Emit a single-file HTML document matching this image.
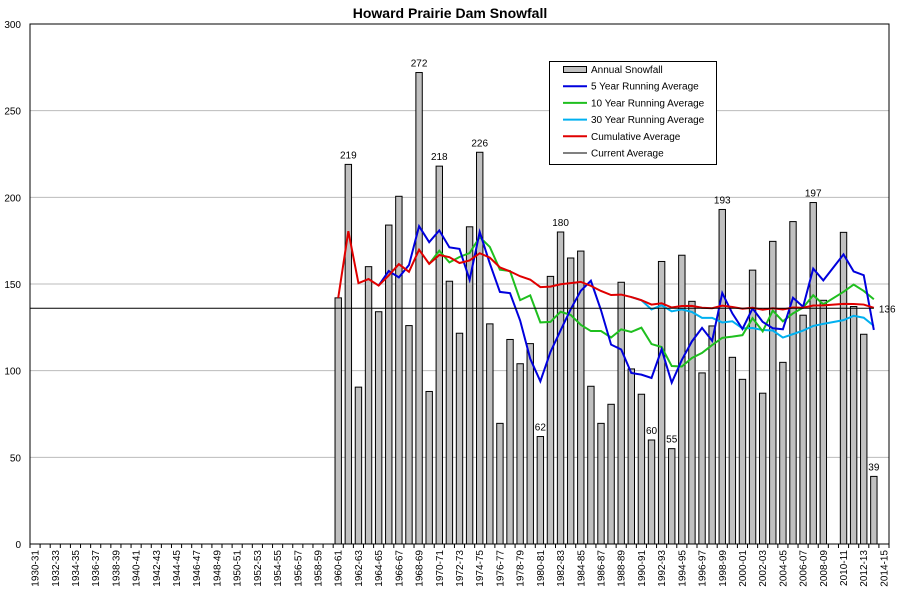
<!DOCTYPE html>
<html><head><meta charset="utf-8"><style>
body{margin:0;background:#fff;}
svg{display:block;font-family:"Liberation Sans",sans-serif;}
</style></head><body>
<svg id="c" width="900" height="600" xmlns="http://www.w3.org/2000/svg"></svg>
<script>
const data={1960:142,1961:219,1962:90.5,1963:160,1964:134,1965:184,1966:200.6,1967:126,1968:272,1969:88,1970:218,1971:151.6,1972:121.6,1973:183,1974:226,1975:127,1976:69.6,1977:118,1978:104,1979:115.6,1980:62,1981:154.4,1982:180,1983:165,1984:169,1985:91,1986:69.6,1987:80.6,1988:151,1989:101,1990:86.4,1991:60,1992:163,1993:55,1994:166.6,1995:140,1996:98.7,1997:125.8,1998:193,1999:107.7,2000:95,2001:158,2002:87,2003:174.6,2004:104.8,2005:186,2006:132,2007:197,2008:140.6,2010:179.8,2011:137,2012:121,2013:39};
const L=30,R=889,T=24,B=544,N=85,cw=(R-L)/N;
const Y=v=>B-v*(B-T)/300, X=i=>L+cw*(i+0.5);
let s='';
s+=`<text x="450" y="18" text-anchor="middle" font-size="14" font-weight="bold">Howard Prairie Dam Snowfall</text>`;
for(let v=50;v<=300;v+=50)s+=`<line x1="${L}" x2="${R}" y1="${Y(v)}" y2="${Y(v)}" stroke="#bbb"/>`;
for(let v=0;v<=300;v+=50)s+=`<text x="21" y="${Y(v)+4}" text-anchor="end" font-size="10">${v}</text>`;
s+=`<rect x="${L}" y="${T}" width="${R-L}" height="${B-T}" fill="none" stroke="#000"/>`;
for(let i=0;i<=N;i++)s+=`<line x1="${L+cw*i}" x2="${L+cw*i}" y1="${B}" y2="${B+4}" stroke="#000"/>`;
for(let i=0;i<N;i+=2){const yr=1930+i;const lab=yr+'-'+String((yr+1)%100).padStart(2,'0');
 s+=`<text transform="translate(${X(i)+3.5},${B+6}) rotate(-90)" text-anchor="end" font-size="10">${lab}</text>`;}
const vals=[];
for(let i=0;i<N;i++){const yr=1930+i;if(data[yr]!==undefined){const v=data[yr];vals.push([i,v]);
 s+=`<rect x="${X(i)-3.2}" y="${Y(v)}" width="6.4" height="${B-Y(v)}" fill="#c0c0c0" stroke="#000" stroke-width="1"/>`;}}
[[1961,219],[1968,272],[1970,218],[1974,226],[1982,180],[1980,62],[1998,193],[1991,60],[1993,55],[2007,197],[2013,39]].forEach(([yr,v])=>{
 s+=`<text x="${X(yr-1930)}" y="${Y(v)-6}" text-anchor="middle" font-size="10">${v}</text>`;});
function run(n){const pts=[];for(let k=0;k<vals.length;k++){if(n&&k<n-1)continue;const st=n?k-n+1:0;let sum=0,c=0;for(let j=st;j<=k;j++){sum+=vals[j][1];c++;}pts.push([X(vals[k][0]),Y(sum/c)]);}return pts.map(p=>p.join(',')).join(' ');}
s+=`<polyline points="${run(30)}" fill="none" stroke="#00b0f0" stroke-width="2"/>`;
s+=`<polyline points="${run(10)}" fill="none" stroke="#1fbf1f" stroke-width="2"/>`;
s+=`<polyline points="${run(5)}" fill="none" stroke="#0000dd" stroke-width="2"/>`;
s+=`<polyline points="${run(0)}" fill="none" stroke="#e00000" stroke-width="2"/>`;
s+=`<line x1="${L}" x2="${X(83)}" y1="${Y(136)}" y2="${Y(136)}" stroke="#000"/>`;
s+=`<text x="${X(83)+5}" y="${Y(136)+4}" font-size="10">136</text>`;
s+=`<rect x="549.5" y="61.5" width="167" height="103" fill="#fff" stroke="#000"/>`;
const lg=[["Annual Snowfall","bar"],["5 Year Running Average","#0000dd"],["10 Year Running Average","#1fbf1f"],["30 Year Running Average","#00b0f0"],["Cumulative Average","#e00000"],["Current Average","#000"]];
lg.forEach((e,k)=>{const y=69.5+k*16.7;
 if(e[1]=="bar")s+=`<rect x="563.5" y="${y-3}" width="23" height="6" fill="#c0c0c0" stroke="#000"/>`;
 else s+=`<line x1="563" x2="587" y1="${y}" y2="${y}" stroke="${e[1]}" stroke-width="${e[1]=='#000'?1:2}"/>`;
 s+=`<text x="591" y="${y+3.5}" font-size="10">${e[0]}</text>`;});
document.getElementById('c').innerHTML=s;
</script>
</body></html>
